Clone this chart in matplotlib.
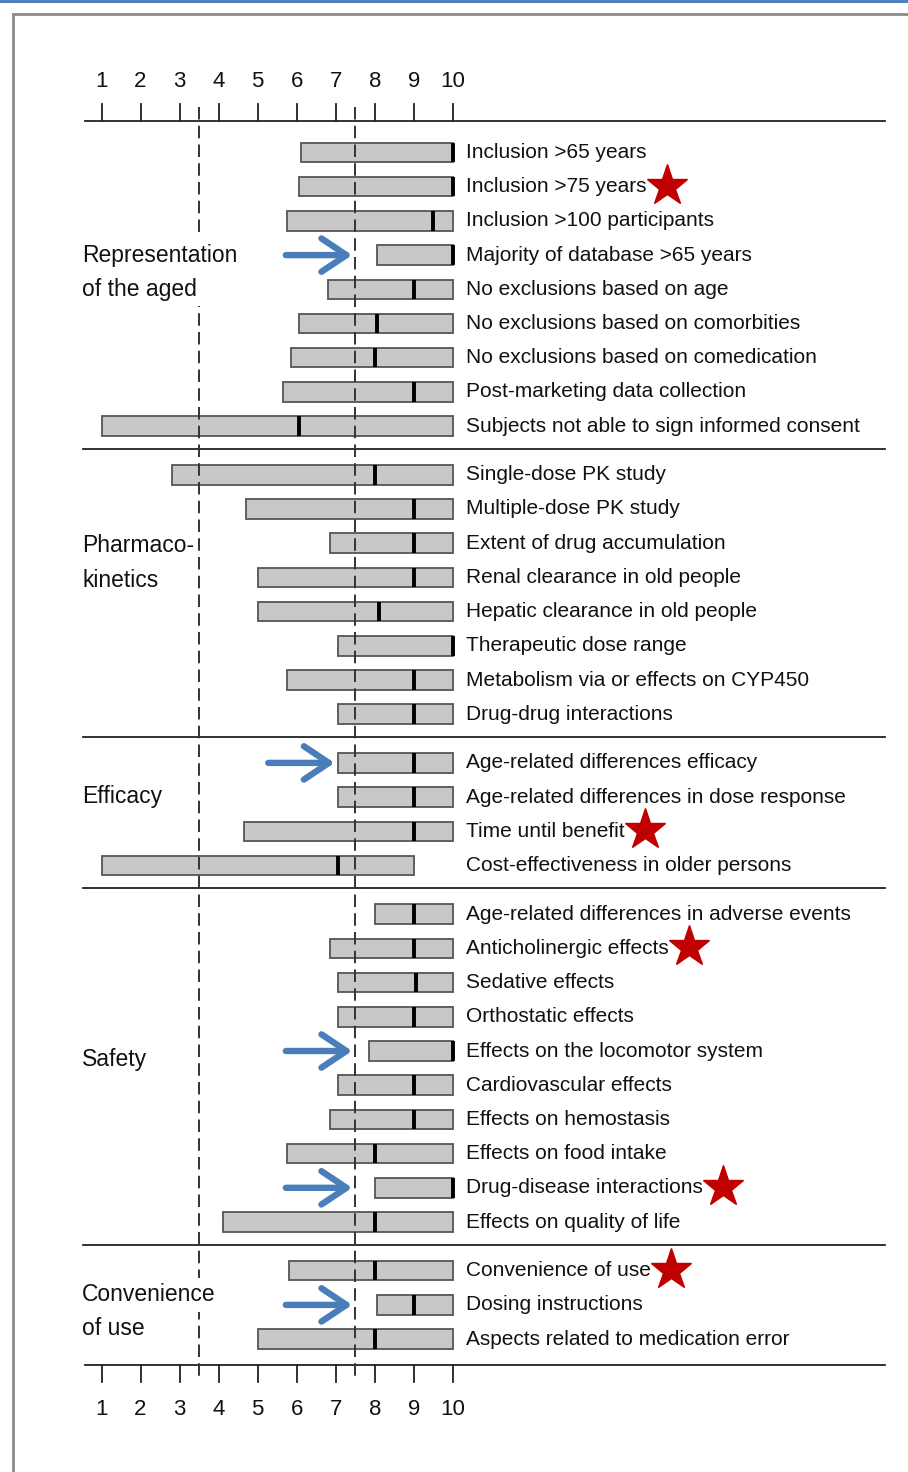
import matplotlib
matplotlib.use("Agg")
import matplotlib.pyplot as plt
from matplotlib.lines import Line2D

plt.rcParams['font.family'] = ['Liberation Sans', 'DejaVu Sans']
plt.rcParams['lines.scale_dashes'] = False

# ---------------- data ----------------
rep_items = ["Inclusion >65 years", "Inclusion >75 years", "Inclusion >100 participants",
             "Majority of database >65 years", "No exclusions based on age",
             "No exclusions based on comorbities", "No exclusions based on comedication",
             "Post-marketing data collection", "Subjects not able to sign informed consent"]
rep_low = [6.1, 6.05, 5.75, 8.05, 6.8, 6.05, 5.85, 5.65, 1.0]
rep_med = [10, 10, 9.5, 10, 9.0, 8.05, 8.0, 9.0, 6.05]
rep_high = [10, 10, 10, 10, 10, 10, 10, 10, 10]

pk_items = ["Single-dose PK study", "Multiple-dose PK study", "Extent of drug accumulation",
            "Renal clearance in old people", "Hepatic clearance in old people",
            "Therapeutic dose range", "Metabolism via or effects on CYP450",
            "Drug-drug interactions"]
pk_low = [2.8, 4.7, 6.85, 5.0, 5.0, 7.05, 5.75, 7.05]
pk_med = [8.0, 9.0, 9.0, 9.0, 8.1, 10, 9.0, 9.0]
pk_high = [10, 10, 10, 10, 10, 10, 10, 10]

eff_items = ["Age-related differences efficacy", "Age-related differences in dose response",
             "Time until benefit", "Cost-effectiveness in older persons"]
eff_low = [7.05, 7.05, 4.65, 1.0]
eff_med = [9.0, 9.0, 9.0, 7.05]
eff_high = [10, 10, 10, 9.0]

saf_items = ["Age-related differences in adverse events", "Anticholinergic effects",
             "Sedative effects", "Orthostatic effects", "Effects on the locomotor system",
             "Cardiovascular effects", "Effects on hemostasis", "Effects on food intake",
             "Drug-disease interactions", "Effects on quality of life"]
saf_low = [8.0, 6.85, 7.05, 7.05, 7.85, 7.05, 6.85, 5.75, 8.0, 4.1]
saf_med = [9.0, 9.0, 9.05, 9.0, 10, 9.0, 9.0, 8.0, 10, 8.0]
saf_high = [10, 10, 10, 10, 10, 10, 10, 10, 10, 10]

con_items = ["Convenience of use", "Dosing instructions", "Aspects related to medication error"]
con_low = [5.8, 8.05, 5.0]
con_med = [8.0, 9.0, 8.0]
con_high = [10, 10, 10]

section_titles = [["Representation", "of the aged"], ["Pharmaco-", "kinetics"],
                  ["Efficacy"], ["Safety"], ["Convenience", "of use"]]
section_items = [rep_items, pk_items, eff_items, saf_items, con_items]
section_low = [rep_low, pk_low, eff_low, saf_low, con_low]
section_med = [rep_med, pk_med, eff_med, saf_med, con_med]
section_high = [rep_high, pk_high, eff_high, saf_high, con_high]

starred = ["Inclusion >75 years", "Time until benefit", "Anticholinergic effects",
           "Drug-disease interactions", "Convenience of use"]
arrowed = ["Majority of database >65 years", "Age-related differences efficacy",
           "Effects on the locomotor system", "Drug-disease interactions", "Dosing instructions"]

ticks = list(range(1, 11))
cutoffs = [3.5, 7.5]

# ---------------- layout ----------------
W, H = 908, 1472
PX0, PXU = 101.5, 39.05          # pixel of value 1, pixels per unit
ROW0, PITCH, GAP = 152.5, 34.2, 14.5
title_row = [3.0, 2.08, 0.97, 4.24, 0.7]   # row of first title line
title_bbox = [[True, True], [False, False], [False], [False], [True, False]]

fig = plt.figure(figsize=(W / 100, H / 100), dpi=100)
ax = fig.add_axes([0, 0, 1, 1])
ax.set_xlim(1 - PX0 / PXU, 1 + (W - PX0) / PXU)
ax.set_ylim(H, 0)
ax.axis('off')

def px(x):
    return 1 + (x - PX0) / PXU

# figure frame
fig.add_artist(Line2D([0, 1], [1 - 1.2 / H, 1 - 1.2 / H], color='#4f81bd', lw=2.2,
                      transform=fig.transFigure))
fig.add_artist(Line2D([12.5 / W, 1.0], [1 - 13.5 / H, 1 - 13.5 / H], color='#8c8c8c', lw=2.0,
                      transform=fig.transFigure))
fig.add_artist(Line2D([12.5 / W, 12.5 / W], [0, 1 - 13.5 / H], color='#8c8c8c', lw=2.0,
                      transform=fig.transFigure))

FS = 15
FS_TITLE = 16.5
FS_TICK = 16
bar_h = 19.5
row_y = {}
sep_y = []
y = ROW0
for s, items in enumerate(section_items):
    ys = []
    for i, it in enumerate(items):
        ys.append(y)
        y += PITCH
    y += GAP
    if s < len(section_items) - 1:
        sep_y.append(ys[-1] + 22.5)
    for it, yy in zip(items, ys):
        row_y.setdefault(it, yy)
    # bars
    for it, lo, md, hi, yy in zip(items, section_low[s], section_med[s], section_high[s], ys):
        ax.barh(yy, hi - lo, left=lo, height=bar_h, color='#c8c8c8', edgecolor='#555555',
                linewidth=1.3, zorder=2)
        ax.plot([md, md], [yy - bar_h / 2, yy + bar_h / 2], color='black', lw=2.8,
                solid_capstyle='butt', zorder=3)
        ax.text(px(466.5), yy, it, fontsize=FS, va='center', ha='left', color='#111111', zorder=5)
    # section titles
    for k, line in enumerate(section_titles[s]):
        ty = ys[0] + (title_row[s] + k) * PITCH
        kw = {}
        if title_bbox[s][k]:
            kw['bbox'] = dict(facecolor='white', edgecolor='none', pad=4)
        ax.text(px(82), ty, line, fontsize=FS_TITLE, va='center', ha='left', color='#111111',
                zorder=6, **kw)

last_y = y - GAP - PITCH
top_axis = ROW0 - 32
bot_axis = last_y + 26

# horizontal rules
ax.plot([px(85), px(885)], [top_axis, top_axis], color='#222222', lw=1.3, zorder=1)
ax.plot([px(85), px(885)], [bot_axis, bot_axis], color='#222222', lw=1.3, zorder=1)
for sy in sep_y:
    ax.plot([px(83), px(885)], [sy, sy], color='#222222', lw=1.3, zorder=1)

# ticks and tick labels
for t in ticks:
    ax.plot([t, t], [top_axis - 17, top_axis], color='#222222', lw=1.3)
    ax.plot([t, t], [bot_axis, bot_axis + 17], color='#222222', lw=1.3)
    ax.text(t, top_axis - 39, str(t), fontsize=FS_TICK, ha='center', va='center', color='#111111')
    ax.text(t, bot_axis + 44, str(t), fontsize=FS_TICK, ha='center', va='center', color='#111111')

# cutoff dashed lines
for c in cutoffs:
    ax.plot([c, c], [top_axis - 14, bot_axis + 12], color='#333333', lw=1.4,
            linestyle=(0, (9, 4.5)), zorder=4)

# arrows
lows = {it: lo for items, lo_l in zip(section_items, section_low) for it, lo in zip(items, lo_l)}
for it in arrowed:
    yy = row_y[it]
    tip = min(cutoffs[1], lows[it]) - 0.08
    ax.annotate('', xy=(tip, yy), xytext=(tip - 1.7, yy),
                arrowprops=dict(arrowstyle='->,head_length=0.9,head_width=0.6',
                                color='#4a7ebb', lw=4.6, mutation_scale=20,
                                shrinkA=0, shrinkB=0), zorder=6)

# stars after labels
fig.canvas.draw()
renderer = fig.canvas.get_renderer()
inv = ax.transData.inverted()
for txt in ax.texts:
    if txt.get_text() in starred and txt.get_position()[0] > 10:
        bb = txt.get_window_extent(renderer)
        xend = inv.transform((bb.x1, bb.y0))[0]
        ax.plot(xend + 20 / PXU, txt.get_position()[1] - 1, marker='*', markersize=31,
                color='#c00000', markeredgecolor='#c00000', zorder=7)

fig.savefig('out.png', dpi=100, facecolor='white')
